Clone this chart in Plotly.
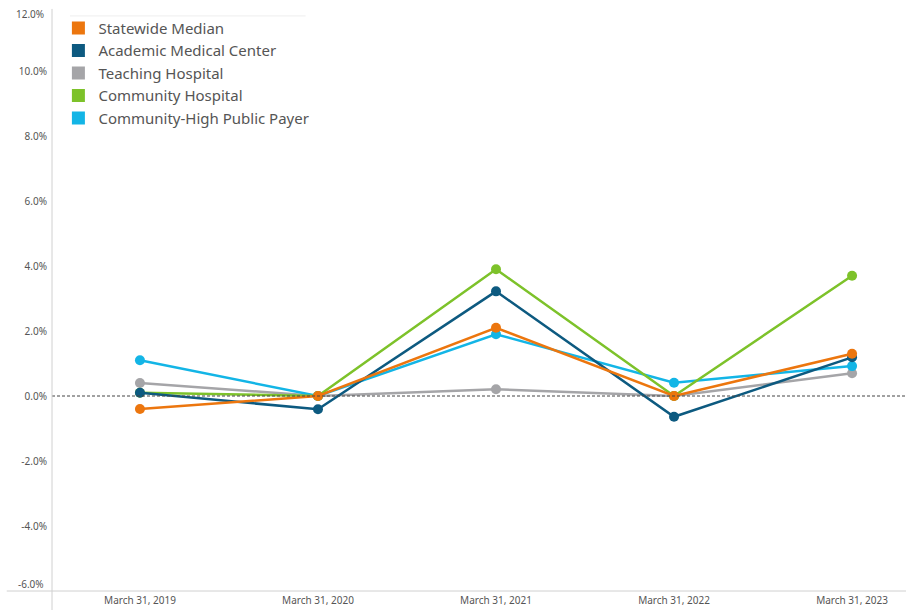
import plotly.graph_objects as go

dates = ["March 31, 2019", "March 31, 2020", "March 31, 2021", "March 31, 2022", "March 31, 2023"]
statewide_median = [-0.4, 0.0, 2.1, 0.0, 1.3]
academic_medical = [0.1, -0.41, 3.22, -0.64, 1.19]
teaching_hospital = [0.4, 0.0, 0.21, 0.0, 0.7]
community_hospital = [0.1, 0.0, 3.9, 0.0, 3.7]
community_high_public = [1.1, 0.0, 1.9, 0.41, 0.92]
y_ticks = [-4, -2, 0, 2, 4, 6, 8, 10]
y_end_ticks = [12, -6]

series = [
    ("Teaching Hospital", teaching_hospital, "#A5A5A8"),
    ("Community-High Public Payer", community_high_public, "#13B5E6"),
    ("Community Hospital", community_hospital, "#7DC22A"),
    ("Academic Medical Center", academic_medical, "#0D5A80"),
    ("Statewide Median", statewide_median, "#EC760E"),
]
legend_order = ["Statewide Median", "Academic Medical Center", "Teaching Hospital",
                "Community Hospital", "Community-High Public Payer"]
colors = {n: c for n, _, c in series}

fig = go.Figure()
for name, vals, col in series:
    fig.add_trace(go.Scatter(
        x=dates, y=vals, mode="lines+markers", name=name, showlegend=False,
        line=dict(color=col, width=2.5), marker=dict(color=col, size=10),
        hovertemplate="%{x}<br>%{y:.1f}%<extra>" + name + "</extra>"))
for name in legend_order:
    fig.add_trace(go.Scatter(
        x=[None], y=[None], mode="markers", name=name,
        marker=dict(color=colors[name], size=13, symbol="square")))

# zero reference line
fig.add_shape(type="line", xref="paper", yref="y", x0=0, x1=1, y0=0, y1=0,
              line=dict(color="#444", width=1, dash="3px,2px"))
# axis frame lines (Tableau style)
fig.add_shape(type="line", xref="paper", yref="paper", x0=-0.053, x1=1, y0=0, y1=0,
              line=dict(color="#d0d0d0", width=1))
fig.add_shape(type="line", xref="paper", yref="paper", x0=0, x1=0, y0=-0.04, y1=0.995,
              line=dict(color="#d0d0d0", width=1))
# faint legend top border
fig.add_shape(type="line", xref="paper", yref="paper", x0=0.021, x1=0.297, y0=0.983, y1=0.983,
              line=dict(color="#eeeeee", width=1))

for v, shift in zip(y_end_ticks, [-8, 7]):
    fig.add_annotation(x=0, xref="paper", xanchor="right", y=v, yref="y", yanchor="middle",
                       text=f"{v:.1f}%", showarrow=False, xshift=-6, yshift=shift,
                       font=dict(size=10, color="#555"))

fig.update_layout(
    width=906, height=610,
    margin=dict(l=52, r=0, t=6, b=19),
    paper_bgcolor="white", plot_bgcolor="white",
    font=dict(family="Noto Sans, Open Sans, sans-serif", color="#555"),
    legend=dict(x=0.0075, y=0.99, xanchor="left", yanchor="top",
                font=dict(size=15, color="#555"), bgcolor="rgba(255,255,255,0)",
                itemsizing="trace"),
    xaxis=dict(type="category", categoryorder="array", categoryarray=dates,
               range=[-0.494, 4.303], showgrid=False, zeroline=False,
               showline=False, ticks="", ticklabelstandoff=2,
               tickfont=dict(size=10, color="#555")),
    yaxis=dict(range=[-6, 12], tickvals=y_ticks,
               ticktext=[f"{v:.1f}%" for v in y_ticks],
               showgrid=False, zeroline=False, showline=False, ticks="",
               ticklabelstandoff=4, tickfont=dict(size=10, color="#555")),
)
fig.write_html("out.html", post_script="document.body.style.margin='0';",
               config={"displayModeBar": False})
